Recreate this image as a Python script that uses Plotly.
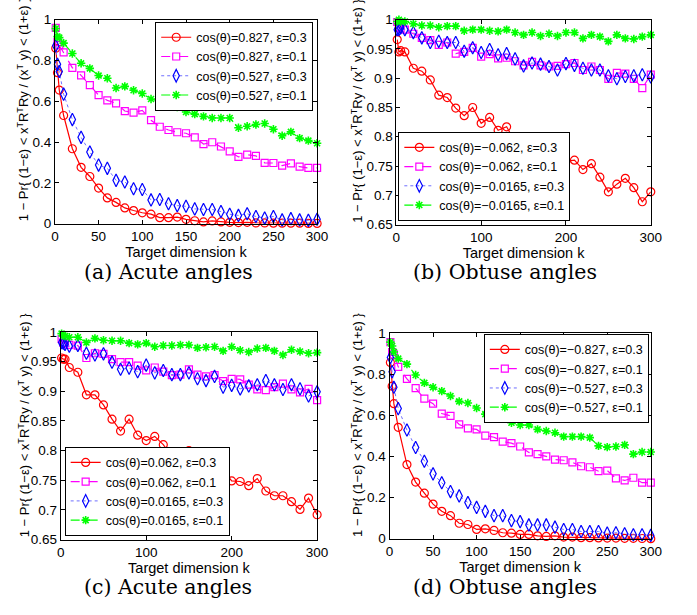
import plotly.graph_objects as go

k = [1, 3, 5] + list(range(10, 301, 10))

# Panel (a) acute angles
a_r3 = [0.86, 0.74, 0.655, 0.53, 0.367, 0.276, 0.231, 0.174, 0.126, 0.104, 0.077, 0.064, 0.053, 0.046, 0.029, 0.029,
        0.032, 0.021, 0.014, 0.008, 0.013, 0.008, 0.006, 0.005, 0.006, 0.003, 0.003, 0.002, 0.002, 0.002, 0.002, 0.001, 0.001]
a_m1 = [0.96, 0.89, 0.875, 0.84, 0.764, 0.727, 0.679, 0.63, 0.604, 0.59, 0.552, 0.544, 0.555, 0.507, 0.475, 0.459,
        0.448, 0.443, 0.423, 0.39, 0.399, 0.378, 0.354, 0.327, 0.338, 0.332, 0.298, 0.297, 0.284, 0.295, 0.279, 0.273, 0.273]
a_b3 = [0.872, 0.781, 0.746, 0.635, 0.51, 0.423, 0.351, 0.287, 0.271, 0.212, 0.204, 0.171, 0.167, 0.116, 0.118, 0.097,
        0.088, 0.085, 0.072, 0.069, 0.069, 0.059, 0.046, 0.04, 0.048, 0.035, 0.027, 0.035, 0.018, 0.024, 0.018, 0.016, 0.021]
a_g1 = [0.957, 0.917, 0.912, 0.885, 0.834, 0.786, 0.761, 0.726, 0.713, 0.665, 0.673, 0.654, 0.638, 0.611, 0.598, 0.59,
        0.571, 0.547, 0.537, 0.526, 0.518, 0.518, 0.518, 0.47, 0.477, 0.486, 0.491, 0.463, 0.431, 0.45, 0.419, 0.407, 0.394]

# Panel (b) obtuse angles
b_r3 = [0.966, 0.945, 0.947, 0.945, 0.917, 0.912, 0.897, 0.871, 0.867, 0.849, 0.836, 0.85, 0.823, 0.833, 0.811, 0.817,
        0.791, 0.789, 0.79, 0.775, 0.764, 0.776, 0.758, 0.76, 0.744, 0.754, 0.731, 0.706, 0.719, 0.729, 0.713, 0.689, 0.706]
b_m1 = [0.996, 0.987, 0.985, 0.983, 0.976, 0.969, 0.965, 0.957, 0.961, 0.942, 0.945, 0.952, 0.937, 0.941, 0.934, 0.935,
        0.929, 0.922, 0.928, 0.922, 0.92, 0.921, 0.924, 0.926, 0.914, 0.92, 0.914, 0.899, 0.909, 0.908, 0.899, 0.883, 0.906]
b_b3 = [0.983, 0.983, 0.986, 0.983, 0.978, 0.969, 0.961, 0.963, 0.961, 0.961, 0.946, 0.952, 0.944, 0.949, 0.94, 0.942,
        0.933, 0.921, 0.926, 0.924, 0.92, 0.914, 0.925, 0.922, 0.917, 0.914, 0.914, 0.904, 0.899, 0.903, 0.904, 0.906, 0.902]
b_g1 = [0.997, 1.0, 0.997, 0.997, 0.993, 0.99, 0.99, 0.987, 0.989, 0.989, 0.981, 0.983, 0.983, 0.981, 0.98, 0.983,
        0.978, 0.974, 0.978, 0.972, 0.976, 0.972, 0.978, 0.978, 0.968, 0.974, 0.971, 0.963, 0.974, 0.968, 0.967, 0.971, 0.974]

# Panel (c) acute angles
c_r3 = [0.956, 0.954, 0.954, 0.94, 0.932, 0.894, 0.894, 0.877, 0.853, 0.833, 0.853, 0.826, 0.817, 0.824, 0.81, 0.79,
        0.785, 0.8, 0.775, 0.782, 0.779, 0.768, 0.749, 0.748, 0.741, 0.753, 0.732, 0.724, 0.724, 0.714, 0.701, 0.72, 0.692]
c_m1 = [0.988, 0.982, 0.981, 0.978, 0.977, 0.956, 0.964, 0.963, 0.954, 0.949, 0.949, 0.943, 0.935, 0.94, 0.933, 0.927,
        0.928, 0.937, 0.928, 0.925, 0.927, 0.917, 0.921, 0.92, 0.911, 0.903, 0.902, 0.907, 0.913, 0.903, 0.898, 0.904, 0.885]
c_b3 = [0.982, 0.981, 0.979, 0.976, 0.977, 0.964, 0.961, 0.963, 0.949, 0.937, 0.939, 0.933, 0.944, 0.931, 0.935, 0.928,
        0.928, 0.931, 0.921, 0.918, 0.925, 0.907, 0.91, 0.904, 0.909, 0.911, 0.918, 0.911, 0.903, 0.911, 0.904, 0.892, 0.899]
c_g1 = [0.997, 0.994, 0.993, 0.991, 0.991, 0.982, 0.989, 0.986, 0.985, 0.985, 0.981, 0.979, 0.981, 0.975, 0.977, 0.977,
        0.978, 0.978, 0.973, 0.974, 0.975, 0.968, 0.975, 0.969, 0.966, 0.972, 0.973, 0.968, 0.961, 0.97, 0.967, 0.964, 0.965]

# Panel (d) obtuse angles
d_r3 = [0.856, 0.741, 0.656, 0.541, 0.36, 0.275, 0.221, 0.168, 0.133, 0.112, 0.075, 0.069, 0.045, 0.048, 0.04, 0.029,
        0.027, 0.021, 0.021, 0.014, 0.011, 0.014, 0.008, 0.008, 0.005, 0.005, 0.004, 0.003, 0.003, 0.002, 0.002, 0.001, 0.0]
d_m1 = [0.955, 0.907, 0.896, 0.835, 0.776, 0.731, 0.68, 0.656, 0.608, 0.597, 0.555, 0.536, 0.531, 0.501, 0.493, 0.472,
        0.464, 0.448, 0.419, 0.411, 0.4, 0.384, 0.381, 0.371, 0.352, 0.347, 0.328, 0.331, 0.293, 0.283, 0.296, 0.272, 0.272]
d_b3 = [0.88, 0.811, 0.736, 0.632, 0.528, 0.443, 0.376, 0.315, 0.272, 0.229, 0.208, 0.176, 0.152, 0.133, 0.112, 0.112,
        0.088, 0.083, 0.067, 0.067, 0.067, 0.056, 0.045, 0.045, 0.035, 0.035, 0.035, 0.027, 0.029, 0.024, 0.019, 0.019, 0.016]
d_g1 = [0.955, 0.936, 0.907, 0.875, 0.848, 0.795, 0.757, 0.736, 0.717, 0.693, 0.667, 0.659, 0.635, 0.605, 0.589, 0.605,
        0.563, 0.552, 0.552, 0.531, 0.523, 0.515, 0.496, 0.496, 0.496, 0.491, 0.451, 0.445, 0.448, 0.456, 0.411, 0.421, 0.421]

names_a = ["cos(θ)=0.827, ε=0.3", "cos(θ)=0.827, ε=0.1", "cos(θ)=0.527, ε=0.3", "cos(θ)=0.527, ε=0.1"]
names_b = ["cos(θ)=−0.062, ε=0.3", "cos(θ)=−0.062, ε=0.1", "cos(θ)=−0.0165, ε=0.3", "cos(θ)=−0.0165, ε=0.1"]
names_c = ["cos(θ)=0.062, ε=0.3", "cos(θ)=0.062, ε=0.1", "cos(θ)=0.0165, ε=0.3", "cos(θ)=0.0165, ε=0.1"]
names_d = ["cos(θ)=−0.827, ε=0.3", "cos(θ)=−0.827, ε=0.1", "cos(θ)=−0.527, ε=0.3", "cos(θ)=−0.527, ε=0.1"]
captions = ["(a) Acute angles", "(b) Obtuse angles", "(c) Acute angles", "(d) Obtuse angles"]

W, H = 697, 615
FONT = "Liberation Sans, Arial, sans-serif"

styles = [
    dict(line=dict(color="#ff0000", width=1.2, dash="solid"),
         marker=dict(symbol="circle-open", size=8, color="#ff0000", line=dict(width=1.2))),
    dict(line=dict(color="#ff00ff", width=1.2, dash="dash"),
         marker=dict(symbol="square-open", size=7, color="#ff00ff", line=dict(width=1.2))),
    dict(line=dict(color="#6f6fff", width=1, dash="dot"),
         marker=dict(symbol="diamond-tall-open", size=9, color="#0000ff", line=dict(width=1.2))),
    dict(line=dict(color="#00ff00", width=1.2, dash="dashdot"),
         marker=dict(symbol="asterisk-open", size=7, color="#00ff00", line=dict(width=1.6, color="#00e000"))),
]

panels = [
    dict(series=[a_r3, a_m1, a_b3, a_g1], names=names_a, px=(52, 320), py=(13, 222), yr=(0, 1), dy=0.2, dx=50,
         leg=dict(x=316, y=15, xa="right", ya="top"), ylab_x=19, cap=(168, 272)),
    dict(series=[b_r3, b_m1, b_b3, b_g1], names=names_b, px=(401, 661), py=(13, 223), yr=(0.65, 1), dy=0.05, dx=100,
         leg=dict(x=403, y=219, xa="left", ya="bottom"), ylab_x=360, cap=(512, 272)),
    dict(series=[c_r3, c_m1, c_b3, c_g1], names=names_c, px=(58, 320), py=(333, 546), yr=(0.65, 1), dy=0.05, dx=100,
         leg=dict(x=62, y=542, xa="left", ya="bottom"), ylab_x=20, cap=(168, 595)),
    dict(series=[d_r3, d_m1, d_b3, d_g1], names=names_d, px=(394, 661), py=(334, 545), yr=(0, 1), dy=0.2, dx=50,
         leg=dict(x=659, y=335, xa="right", ya="top"), ylab_x=360, cap=(512, 595)),
]

fig = go.Figure()
layout = dict(width=W, height=H, margin=dict(l=0, r=0, t=0, b=0), paper_bgcolor="white", plot_bgcolor="white",
              font=dict(family=FONT, size=13, color="black"), annotations=[])

ylabel = "1 − Pr{ (1−ε) < x<sup>T</sup>R<sup>T</sup>Ry / (x<sup>T</sup> y) < (1+ε) }"

for i, p in enumerate(panels):
    n = i + 1
    xa = "x" if n == 1 else f"x{n}"
    ya = "y" if n == 1 else f"y{n}"
    lg = "legend" if n == 1 else f"legend{n}"
    for j, (ser, nm) in enumerate(zip(p["series"], p["names"])):
        fig.add_trace(go.Scatter(x=k, y=ser, name=nm, mode="lines+markers", xaxis=xa, yaxis=ya, legend=lg,
                                 cliponaxis=False, **styles[j]))
    x0, x1 = p["px"]
    y0, y1 = p["py"]
    xkey = "xaxis" if n == 1 else f"xaxis{n}"
    ykey = "yaxis" if n == 1 else f"yaxis{n}"
    common = dict(showline=True, linecolor="black", linewidth=1, mirror="ticks", ticks="inside", ticklen=4,
                  tickcolor="black", showgrid=False, zeroline=False, tickfont=dict(size=13.5))
    layout[xkey] = dict(domain=[x0 / W, x1 / W], range=[0, 300], dtick=p["dx"], tick0=0, anchor=ya,
                        title=dict(text="Target dimension k", standoff=0, font=dict(size=14.5)), **common)
    layout[ykey] = dict(domain=[1 - y1 / H, 1 - y0 / H], range=list(p["yr"]), dtick=p["dy"], tick0=0, anchor=xa,
                        **common)
    L = p["leg"]
    layout[lg] = dict(x=L["x"] / W, y=1 - L["y"] / H, xanchor=L["xa"], yanchor=L["ya"], xref="paper", yref="paper",
                      bgcolor="white", bordercolor="black", borderwidth=1, font=dict(size=12.5, family=FONT),
                      itemwidth=30, tracegroupgap=0)
    layout["annotations"].append(dict(text=ylabel, x=p["ylab_x"] / W, y=1 - y1 / H, xref="paper", yref="paper",
                                      xanchor="center", yanchor="bottom", textangle=-90, showarrow=False,
                                      font=dict(size=13, family=FONT)))
    layout["annotations"].append(dict(text=captions[i], x=p["cap"][0] / W, y=1 - p["cap"][1] / H, xref="paper",
                                      yref="paper", xanchor="center", yanchor="middle", showarrow=False,
                                      font=dict(size=20.5, family="DejaVu Serif, serif")))

fig.update_layout(**layout)
fig.write_html("out.html", config={"displayModeBar": False},
               post_script="document.body.style.margin='0px';document.body.style.overflow='hidden';")
